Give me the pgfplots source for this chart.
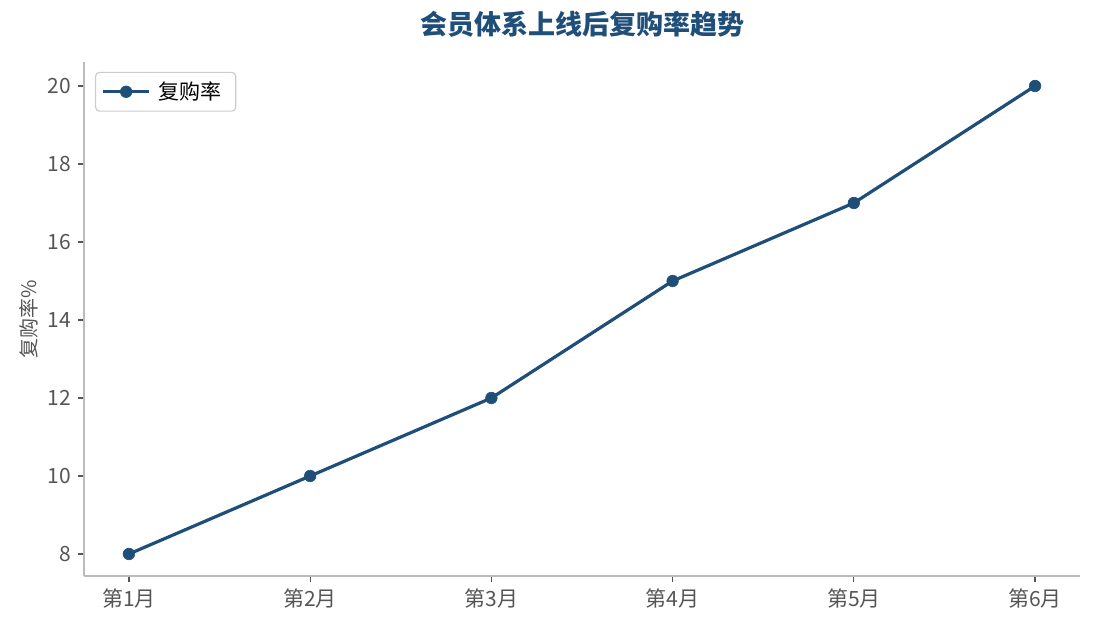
\documentclass[border=0pt]{standalone}
\usepackage{fontspec}
\setmainfont{Noto Sans CJK SC}
\usepackage{pgfplots}
\pgfplotsset{compat=1.18}
\definecolor{mainblue}{HTML}{1F4E79}
\definecolor{spine}{HTML}{BBBBBB}
\definecolor{ticktext}{HTML}{555555}
\begin{document}
\begin{tikzpicture}
\useasboundingbox (-42pt,-27pt) rectangle (505.5pt,288pt);
\begin{axis}[
    scale only axis,
    width=498pt, height=257pt,
    xmin=-0.248, xmax=5.248,
    ymin=7.436, ymax=20.615,
    axis x line*=bottom, axis y line*=left,
    axis line style={spine, line width=0.75pt},
    xtick={0,1,2,3,4,5},
    xticklabels={第1月,第2月,第3月,第4月,第5月,第6月},
    ytick={8,10,12,14,16,18,20},
    tick align=outside,
    major tick length=3pt,
    tick style={ticktext, line width=0.6pt},
    ticklabel style={font=\fontsize{10.5pt}{12pt}\selectfont, text=ticktext},
    /pgf/number format/assume math mode=true,
    ylabel={复购率\%},
    ylabel style={font=\fontsize{10pt}{12pt}\selectfont, text=ticktext, yshift=-2pt},
    title={会员体系上线后复购率趋势},
    title style={font=\fontsize{13.5pt}{15pt}\selectfont\bfseries, text=mainblue, yshift=3pt},
    legend style={at={(0.011,0.981)}, anchor=north west,
        draw=black!20, rounded corners=2pt, line width=0.6pt,
        font=\fontsize{10.5pt}{12pt}\selectfont,
        inner xsep=3pt, inner ysep=2.5pt,
        nodes={inner xsep=4pt}},
    legend image code/.code={
        \draw[mark repeat=2, mark phase=2]
        plot coordinates {(0pt,0pt) (11.5pt,0pt) (23pt,0pt)};},
    legend cell align=left,
]
\addplot[mainblue, line width=1.6pt, mark=*, mark size=2.9pt,
    mark options={solid, fill=mainblue, draw=mainblue, line width=0.3pt}]
    coordinates {(0,8)(1,10)(2,12)(3,15)(4,17)(5,20)};
\addlegendentry{复购率}
\end{axis}
\end{tikzpicture}
\end{document}
